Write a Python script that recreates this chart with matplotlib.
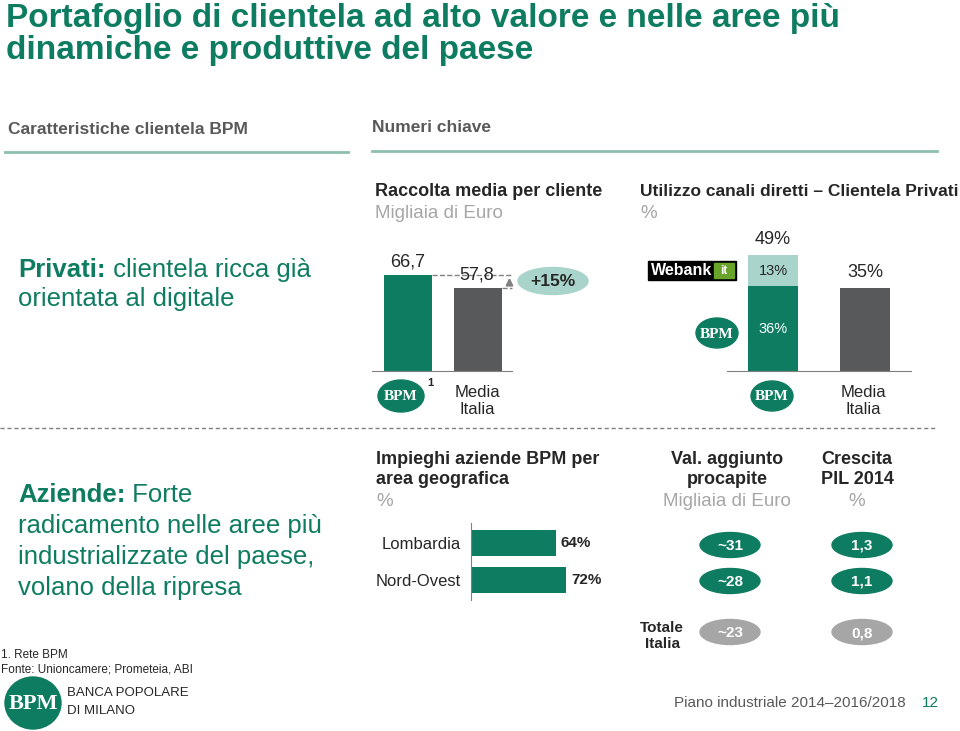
import matplotlib
matplotlib.use("Agg")
import matplotlib.pyplot as plt
from matplotlib.patches import Ellipse, Rectangle

# --- data ---
raccolta_labels = ["BPM", "Media Italia"]
raccolta_values = [66.7, 57.8]
raccolta_delta = "+15%"

canali_bpm = 36
canali_webank = 13
canali_media = 35

aree = ["Lombardia", "Nord-Ovest"]
impieghi = [64, 72]
val_aggiunto = ["~31", "~28", "~23"]
crescita_pil = ["1,3", "1,1", "0,8"]

GREEN = '#0e7c61'
GRAY_BAR = '#58595b'
LIGHT = '#a8d4cb'
TEAL_LINE = '#8dbfb0'
DARK = '#262626'
MID = '#595959'
LGRAY = '#a6a6a6'

W, H = 960, 731
plt.rcParams['font.family'] = ['Liberation Sans', 'DejaVu Sans']
fig = plt.figure(figsize=(9.6, 7.31), dpi=100)


def box(x0, y0, x1, y1):
    return [x0 / W, 1 - y1 / H, (x1 - x0) / W, (y1 - y0) / H]


ov = fig.add_axes([0, 0, 1, 1])
ov.set_xlim(0, W)
ov.set_ylim(H, 0)
ov.axis('off')


def fmt(v):
    return f"{v:.1f}".replace('.', ',')


def bpm_logo(x, y, w, h, fs=11):
    ov.add_patch(Ellipse((x, y), w, h, color=GREEN))
    ov.text(x, y + 1, "BPM", color='white', fontsize=fs, fontweight='bold',
            family=['Liberation Serif'], ha='center', va='center')


# title
ov.text(6, 19, "Portafoglio di clientela ad alto valore e nelle aree più",
        fontsize=24, fontweight='bold', color=GREEN, va='center')
ov.text(6, 50, "dinamiche e produttive del paese",
        fontsize=24, fontweight='bold', color=GREEN, va='center')

# section headers
ov.text(8, 130, "Caratteristiche clientela BPM", fontsize=12.5, color=MID,
        fontweight='bold', va='center')
ov.plot([5, 348], [152, 152], color=TEAL_LINE, lw=2)
ov.text(372, 128, "Numeri chiave", fontsize=12.5, color=MID,
        fontweight='bold', va='center')
ov.plot([372, 937], [151, 151], color=TEAL_LINE, lw=2)

# left texts
BIG = 18.5
t = ov.text(18, 270, "Privati:", fontsize=BIG, fontweight='bold', color=GREEN, va='center')
ov.annotate(" clientela ricca già", xycoords=t, xy=(1, 0.5), va='center',
            fontsize=BIG, color=GREEN)
ov.text(18, 299, "orientata al digitale", fontsize=BIG, color=GREEN, va='center')

t = ov.text(18, 495, "Aziende:", fontsize=BIG, fontweight='bold', color=GREEN, va='center')
ov.annotate(" Forte", xycoords=t, xy=(1, 0.5), va='center', fontsize=BIG, color=GREEN)
for i, s in enumerate(["radicamento nelle aree più", "industrializzate del paese,",
                       "volano della ripresa"]):
    ov.text(18, 526 + 31 * i, s, fontsize=BIG, color=GREEN, va='center')

ov.plot([0, 935], [428, 428], color='#808080', lw=1, ls=(0, (3, 2)))

# chart 1 headers
ov.text(375, 191, "Raccolta media per cliente", fontsize=13, fontweight='bold',
        color=DARK, va='center')
ov.text(375, 213, "Migliaia di Euro", fontsize=13.5, color=LGRAY, va='center')

# chart 1
ax1 = fig.add_axes(box(372, 231, 512, 371))
ax1.set_facecolor('none')
ax1.bar([0, 1], raccolta_values, width=0.686, color=[GREEN, GRAY_BAR])
ax1.set_xlim(-0.514, 1.486)
ax1.set_ylim(0, 97.2)
for s in ['top', 'right', 'left']:
    ax1.spines[s].set_visible(False)
ax1.spines['bottom'].set_color('#808080')
ax1.set_xticks([])
ax1.set_yticks([])
ax1.text(0, raccolta_values[0] + 3, fmt(raccolta_values[0]), ha='center',
         va='bottom', fontsize=13, color=DARK)
ax1.text(0.98, raccolta_values[1] + 3, fmt(raccolta_values[1]), ha='center',
         va='bottom', fontsize=13, color=DARK)
ax1.plot([0.343, 1.48], [raccolta_values[0]] * 2, color='#808080', lw=1, ls='--',
         clip_on=False)
ax1.plot([1.343, 1.48], [raccolta_values[1]] * 2, color='#808080', lw=1, ls='--',
         clip_on=False)
ax1.annotate("", xy=(1.45, raccolta_values[0]), xytext=(1.45, raccolta_values[1]),
             arrowprops=dict(arrowstyle='-|>', color='#808080', lw=1.5), annotation_clip=False)
ov.add_patch(Ellipse((553, 281), 70, 27, color=LIGHT))
ov.text(553, 282, raccolta_delta, ha='center', va='center', fontsize=12.5,
        fontweight='bold', color=DARK)

bpm_logo(401, 396, 46, 32)
ov.text(427, 383, "1", fontsize=8, fontweight='bold', color=DARK, va='center')
ov.text(477, 401, "Media\nItalia", ha='center', va='center', fontsize=12,
        color=DARK, linespacing=1.2)

# chart 2 headers
ov.text(640, 191, "Utilizzo canali diretti – Clientela Privati", fontsize=12.5,
        fontweight='bold', color=DARK, va='center')
ov.text(640, 213, "%", fontsize=13.5, color=LGRAY, va='center')

ax2 = fig.add_axes(box(727, 231, 911, 371))
ax2.set_facecolor('none')
ax2.bar([0], [canali_bpm], width=0.543, color=GREEN)
ax2.bar([0], [canali_webank], bottom=[canali_bpm], width=0.543, color=LIGHT)
ax2.bar([1], [canali_media], width=0.543, color=GRAY_BAR)
ax2.set_xlim(-0.5, 1.5)
ax2.set_ylim(0, 59.3)
for s in ['top', 'right', 'left']:
    ax2.spines[s].set_visible(False)
ax2.spines['bottom'].set_color('#808080')
ax2.set_xticks([])
ax2.set_yticks([])
tot = canali_bpm + canali_webank
ax2.text(0, tot + 3, f"{tot}%", ha='center', va='bottom', fontsize=13, color=DARK)
ax2.text(0, canali_bpm + canali_webank / 2, f"{canali_webank}%", ha='center',
         va='center', fontsize=10.5, color=DARK)
ax2.text(0, canali_bpm / 2, f"{canali_bpm}%", ha='center', va='center',
         fontsize=10.5, color='white')
ax2.text(1, canali_media + 3, f"{canali_media}%", ha='center', va='bottom',
         fontsize=13, color=DARK)

# webank logo
ov.add_patch(Rectangle((648, 261), 88, 19, color='black'))
ov.text(651, 270.5, "Webank", color='white', fontsize=11.5, fontweight='bold', va='center')
ov.add_patch(Rectangle((714, 263), 20, 15, color='#6aa329'))
ov.text(724, 271, "it", color='white', fontsize=8.5, fontweight='bold',
        ha='center', va='center')
bpm_logo(717, 333, 42, 30)
bpm_logo(772, 396, 42, 30)
ov.text(863, 401, "Media\nItalia", ha='center', va='center', fontsize=12,
        color=DARK, linespacing=1.2)

# chart 3 headers
ov.text(376, 459, "Impieghi aziende BPM per", fontsize=13, fontweight='bold',
        color=DARK, va='center')
ov.text(376, 480, "area geografica", fontsize=13, fontweight='bold',
        color=DARK, va='center')
ov.text(376, 501, "%", fontsize=13.5, color=LGRAY, va='center')

ax3 = fig.add_axes(box(471, 523, 621, 600))
ax3.set_facecolor('none')
ax3.barh([0, 1], impieghi, height=0.676, color=GREEN)
ax3.set_xlim(0, 113.6)
ax3.set_ylim(1.54, -0.54)
for s in ['top', 'right', 'bottom']:
    ax3.spines[s].set_visible(False)
ax3.spines['left'].set_color('#808080')
ax3.set_xticks([])
ax3.set_yticks([0, 1], aree, fontsize=12, color=DARK)
ax3.tick_params(axis='y', length=0, pad=7)
for i, v in enumerate(impieghi):
    ax3.text(v + 4, i, f"{v}%", va='center', ha='left', fontsize=11,
             fontweight='bold', color=DARK)

# ellipse columns
for cx, l1, l2, l3 in [(727, "Val. aggiunto", "procapite", "Migliaia di Euro"),
                       (857, "Crescita", "PIL 2014", "%")]:
    ov.text(cx, 459, l1, ha='center', va='center', fontsize=13, fontweight='bold',
            color=DARK)
    ov.text(cx, 480, l2, ha='center', va='center', fontsize=13, fontweight='bold',
            color=DARK)
    ov.text(cx, 501, l3, ha='center', va='center', fontsize=13.5, color=LGRAY)

rows_y = [545, 581, 632]
for col_x, vals in [(730, val_aggiunto), (862, crescita_pil)]:
    for i, (yy, v) in enumerate(zip(rows_y, vals)):
        c = GREEN if i < 2 else LGRAY
        ov.add_patch(Ellipse((col_x, yy), 60, 25, color=c))
        ov.text(col_x, yy + 1, v, ha='center', va='center', fontsize=11,
                fontweight='bold', color='white')
ov.text(662, 636, "Totale\nItalia", ha='center', va='center', fontsize=11,
        fontweight='bold', color=DARK, linespacing=1.2)

# footer
ov.text(1, 655, "1. Rete BPM", fontsize=8.5, color=DARK, va='center')
ov.text(1, 669, "Fonte: Unioncamere; Prometeia, ABI", fontsize=8.5, color=DARK, va='center')
ov.add_patch(Ellipse((33, 703), 56, 52, color=GREEN))
ov.text(33, 704, "BPM", color='white', fontsize=16, fontweight='bold',
        family=['Liberation Serif'], ha='center', va='center')
ov.text(67, 693, "BANCA POPOLARE", fontsize=9.5, color=DARK, va='center')
ov.text(67, 711, "DI MILANO", fontsize=9.5, color=DARK, va='center')
ov.text(906, 703, "Piano industriale 2014–2016/2018", fontsize=11, color=MID,
        ha='right', va='center')
ov.text(930, 703, "12", fontsize=11, color=GREEN, ha='center', va='center')

fig.savefig("out.png", dpi=100)
